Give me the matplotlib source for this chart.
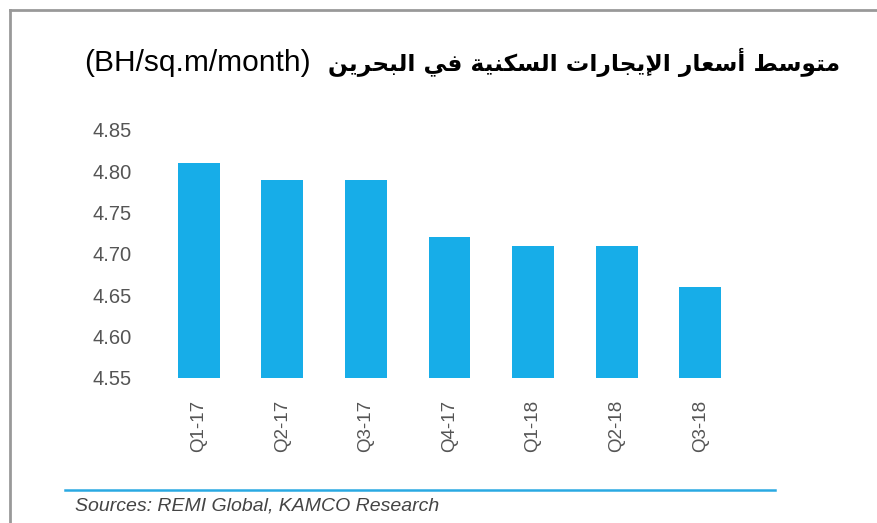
import matplotlib
matplotlib.use("Agg")
import matplotlib.pyplot as plt
import numpy as np
from matplotlib.lines import Line2D

# data
quarters = ["Q1-17", "Q2-17", "Q3-17", "Q4-17", "Q1-18", "Q2-18", "Q3-18"]
rents = [4.81, 4.79, 4.79, 4.72, 4.71, 4.71, 4.66]
yticks = [4.55, 4.60, 4.65, 4.70, 4.75, 4.80, 4.85]
title_ar = "متوسط أسعار الإيجارات السكنية في البحرين"
title_en = "(BH/sq.m/month)"
source = "Sources: REMI Global, KAMCO Research"

# minimal arabic shaping (presentation forms B): iso, fin, ini, med
FORMS = {
    "ا": (0xFE8D, 0xFE8E, None, None), "أ": (0xFE83, 0xFE84, None, None),
    "إ": (0xFE87, 0xFE88, None, None), "ب": (0xFE8F, 0xFE90, 0xFE91, 0xFE92),
    "ة": (0xFE93, 0xFE94, None, None), "ت": (0xFE95, 0xFE96, 0xFE97, 0xFE98),
    "ج": (0xFE9D, 0xFE9E, 0xFE9F, 0xFEA0), "ح": (0xFEA1, 0xFEA2, 0xFEA3, 0xFEA4),
    "ر": (0xFEAD, 0xFEAE, None, None), "س": (0xFEB1, 0xFEB2, 0xFEB3, 0xFEB4),
    "ط": (0xFEC1, 0xFEC2, 0xFEC3, 0xFEC4), "ع": (0xFEC9, 0xFECA, 0xFECB, 0xFECC),
    "ف": (0xFED1, 0xFED2, 0xFED3, 0xFED4), "ك": (0xFED9, 0xFEDA, 0xFEDB, 0xFEDC),
    "ل": (0xFEDD, 0xFEDE, 0xFEDF, 0xFEE0), "م": (0xFEE1, 0xFEE2, 0xFEE3, 0xFEE4),
    "ن": (0xFEE5, 0xFEE6, 0xFEE7, 0xFEE8), "و": (0xFEED, 0xFEEE, None, None),
    "ي": (0xFEF1, 0xFEF2, 0xFEF3, 0xFEF4),
}
LAM_ALEF = {"ا": (0xFEFB, 0xFEFC), "أ": (0xFEF7, 0xFEF8), "إ": (0xFEF9, 0xFEFA)}


def shape(text):
    out = []
    i = 0
    prev_joins = False
    while i < len(text):
        c = text[i]
        if c not in FORMS:
            out.append(c)
            prev_joins = False
            i += 1
            continue
        if c == "ل" and i + 1 < len(text) and text[i + 1] in LAM_ALEF:
            iso, fin = LAM_ALEF[text[i + 1]]
            out.append(chr(fin if prev_joins else iso))
            prev_joins = False
            i += 2
            continue
        f = FORMS[c]
        nxt = text[i + 1] if i + 1 < len(text) else ""
        next_joins = f[2] is not None and nxt in FORMS
        if prev_joins and next_joins:
            g = f[3]
        elif prev_joins:
            g = f[1]
        elif next_joins:
            g = f[2]
        else:
            g = f[0]
        out.append(chr(g))
        prev_joins = f[2] is not None
        i += 1
    return "".join(out)[::-1]


blue = "#17ade8"

fig = plt.figure(figsize=(8.78, 5.23), dpi=100)
ax = fig.add_axes([157 / 878, 1 - 378 / 523, 585 / 878, 248 / 523])

x = np.arange(len(quarters))
ax.bar(x, np.array(rents) - 4.55, bottom=4.55, width=0.5, color=blue)
ax.set_xlim(-0.5, len(quarters) - 0.5)
ax.set_ylim(4.55, 4.85)
ax.set_yticks(yticks)
ax.set_yticklabels(["%.2f" % v for v in yticks], fontsize=14.5, color="#555555",
                   family="Liberation Sans")
ax.set_xticks(x)
ax.set_xticklabels(quarters, rotation=90, fontsize=13.5, color="#555555",
                   family="Liberation Sans")
ax.tick_params(axis="y", length=0, pad=18)
ax.tick_params(axis="x", length=0, pad=16)
for s in ax.spines.values():
    s.set_visible(False)

# title: arabic part bold on the right, english unit on the left
fig.text(840 / 878, 1 - 62 / 523, shape(title_ar), ha="right", va="center",
         fontsize=16.8, fontweight="bold", family=["DejaVu Sans"])
fig.text(84 / 878, 1 - 63 / 523, title_en, ha="left", va="center",
         fontsize=21.5, family="Liberation Sans")

fig.add_artist(Line2D([65 / 878, 775 / 878], [1 - 490 / 523] * 2, color="#2aa9e2", lw=1.8))
fig.text(75 / 878, 1 - 506 / 523, source, ha="left", va="center", fontsize=14,
         style="italic", color="#444444", family="Liberation Sans")

# frame
fig.add_artist(Line2D([10 / 878, 1.0], [1 - 10 / 523] * 2, color="#999999", lw=2))
fig.add_artist(Line2D([10 / 878, 10 / 878], [0, 1 - 10 / 523], color="#999999", lw=2))

fig.savefig("out.png", dpi=100)
